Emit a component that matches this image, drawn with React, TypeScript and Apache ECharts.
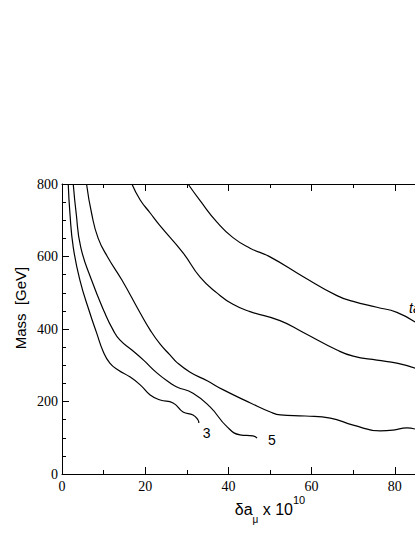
import React, { useEffect, useRef } from 'react';
import * as echarts from 'echarts';

// δa_mu x 10^10 vs Mass [GeV]; contour curves
const curve3: [number, number][] = [
  [1.5, 800], [1.9, 720], [2.7, 626], [4.3, 535], [6.7, 444], [8.3, 390], [9.9, 338],
  [11.5, 306], [13.5, 287], [16.3, 268], [18.8, 246], [21.2, 218], [23.6, 204],
  [26.7, 196], [29.1, 171], [31.5, 163], [32.7, 149], [32.9, 141],
];
const curve5: [number, number][] = [
  [2.7, 800], [3.4, 720], [4.5, 626], [7.1, 535], [10.3, 444], [12.3, 397], [13.9, 370],
  [16.8, 342], [19.6, 314], [22.8, 279], [26.0, 251], [27.6, 240], [31.5, 223],
  [35.6, 185], [39.7, 130], [42.8, 108], [45.9, 105], [46.9, 99],
];
const curveC: [number, number][] = [
  [5.9, 800], [7.1, 720], [8.7, 650], [11.1, 596], [14.4, 535], [18.8, 444], [21.2, 397],
  [23.6, 358], [26.0, 328], [27.6, 308], [30.8, 281], [34.9, 257], [38.8, 232],
  [45.3, 196], [50.1, 171], [52.5, 163], [58.5, 160], [64.5, 154], [70.0, 135],
  [76.5, 119], [79.6, 121], [82.9, 127], [84.9, 124],
];
const curveD: [number, number][] = [
  [16.8, 800], [18.8, 756], [21.2, 720], [23.4, 687], [29.1, 610], [33.2, 543],
  [37.3, 499], [41.1, 468], [45.2, 448], [52.4, 423], [57.9, 391], [66.1, 342],
  [70.0, 325], [75.7, 314], [80.5, 306], [84.9, 292],
];
const curveE: [number, number][] = [
  [30.3, 800], [33.2, 754], [37.3, 694], [41.1, 652], [45.2, 623], [50.0, 599],
  [57.9, 545], [66.1, 492], [70.0, 476], [75.7, 460], [80.5, 446], [84.9, 419],
];

const curveLabels = ['3', '5', '', '', ''];
const xRange = [0, 100];
const yRange = [0, 800];

export default function App() {
  const ref = useRef<HTMLDivElement>(null);
  useEffect(() => {
    if (!ref.current) return;
    const chart = echarts.init(ref.current, null, { renderer: 'svg' });
    const lineStyle = { color: '#000', width: 1.2 };
    const curves = [curve3, curve5, curveC, curveD, curveE];
    const labelOffsets: [number, number][] = [[-4, 10], [3, 2], [0, 0], [0, 0], [0, 0]];
    const series: any[] = curves.map((c, i) => ({
      type: 'line',
      data: c,
      showSymbol: false,
      symbol: 'none',
      smooth: 0.5,
      lineStyle,
      silent: true,
      clip: true,
      endLabel: curveLabels[i]
        ? {
            show: true,
            formatter: curveLabels[i],
            offset: labelOffsets[i],
            fontFamily: 'Liberation Sans',
            fontSize: 14,
            color: '#000',
          }
        : { show: false },
    }));

    const axisCommon = {
      type: 'value' as const,
      axisLine: { show: true, lineStyle: { color: '#000', width: 1 } },
      axisTick: { show: true, inside: true, length: 7, lineStyle: { color: '#000' } },
      minorTick: { show: true, splitNumber: 2, length: 4, lineStyle: { color: '#000' } },
      splitLine: { show: false },
      minorSplitLine: { show: false },
    };

    chart.setOption({
      animation: false,
      grid: {
        left: 62,
        top: 184,
        width: 416,
        height: 290,
        containLabel: false,
        outerBoundsMode: 'none',
      },
      xAxis: [
        {
          ...axisCommon,
          min: xRange[0],
          max: xRange[1],
          interval: 20,
          position: 'bottom',
          axisLabel: {
            margin: 5,
            showMaxLabel: false,
            fontFamily: 'Liberation Serif',
            fontSize: 14,
            color: '#000',
          },
        },
        {
          ...axisCommon,
          min: xRange[0],
          max: xRange[1],
          interval: 20,
          position: 'top',
          axisLabel: { show: false },
        },
      ],
      yAxis: [
        {
          ...axisCommon,
          min: yRange[0],
          max: yRange[1],
          interval: 200,
          minorTick: { show: true, splitNumber: 4, length: 4, lineStyle: { color: '#000' } },
          axisLabel: {
            margin: 4,
            fontFamily: 'Liberation Serif',
            fontSize: 14,
            color: '#000',
          },
        },
      ],
      series,
      graphic: [
        {
          type: 'text',
          x: 20,
          y: 308,
          rotation: Math.PI / 2,
          style: {
            text: 'Mass  [GeV]',
            fontFamily: 'Liberation Sans',
            fontSize: 15,
            fill: '#000',
            align: 'center',
            verticalAlign: 'middle',
          },
        },
        {
          type: 'text',
          x: 270,
          y: 509,
          style: {
            text: '{a|δa}{s|μ}{a| x 10}{p|10}',
            align: 'center',
            verticalAlign: 'middle',
            rich: {
              a: { fontFamily: 'Liberation Sans', fontSize: 16, lineHeight: 30, verticalAlign: 'middle', fill: '#000' },
              s: { fontFamily: 'Liberation Sans', fontSize: 10, lineHeight: 10, verticalAlign: 'bottom', fill: '#000' },
              p: { fontFamily: 'Liberation Sans', fontSize: 11, lineHeight: 14, verticalAlign: 'top', fill: '#000' },
            },
          },
        },
        {
          type: 'text',
          x: 409,
          y: 308,
          style: {
            text: 'tanβ',
            fontFamily: 'Liberation Sans',
            fontStyle: 'italic',
            fontSize: 14,
            fill: '#000',
            verticalAlign: 'middle',
          },
        },
      ],
    });
    return () => chart.dispose();
  }, []);
  return (
    <div
      ref={ref}
      style={{ position: 'absolute', left: 0, top: 0, width: 415, height: 537, background: '#fff' }}
    />
  );
}
